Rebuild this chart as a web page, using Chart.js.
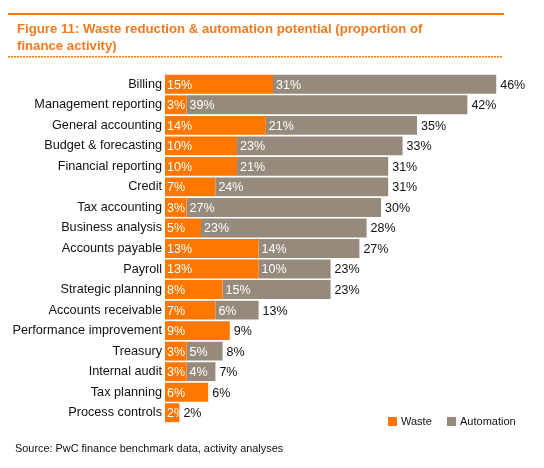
<!DOCTYPE html>
<html>
<head>
<meta charset="utf-8">
<script src="https://cdn.jsdelivr.net/npm/chart.js@4"></script>
<style>
  html, body { margin: 0; padding: 0; background: #fff; }
  #wrap { position: relative; width: 544px; height: 468px; }
  canvas { position: absolute; left: 0; top: 0; }
</style>
</head>
<body>
<div id="wrap"><canvas id="chart" width="544" height="468"></canvas></div>
<script>
const categories = [
  "Billing", "Management reporting", "General accounting", "Budget & forecasting",
  "Financial reporting", "Credit", "Tax accounting", "Business analysis",
  "Accounts payable", "Payroll", "Strategic planning", "Accounts receivable",
  "Performance improvement", "Treasury", "Internal audit", "Tax planning", "Process controls"
];
const waste = [15, 3, 14, 10, 10, 7, 3, 5, 13, 13, 8, 7, 9, 3, 3, 6, 2];
const automation = [31, 39, 21, 23, 21, 24, 27, 23, 14, 10, 15, 6, 0, 5, 4, 0, 0];
const totals = [46, 42, 35, 33, 31, 31, 30, 28, 27, 23, 23, 13, 9, 8, 7, 6, 2];

const orange = "#ff7600";
const grey = "#968a7d";
const font = "'Liberation Sans', Arial, sans-serif";

// frame: title, rules, legend, source
const framePlugin = {
  id: "frame",
  afterDraw(chart) {
    const ctx = chart.ctx;
    ctx.save();
    ctx.fillStyle = orange;
    ctx.fillRect(8, 13, 496, 2);
    ctx.fillStyle = "#f47a1f";
    ctx.font = "bold 13.2px " + font;
    ctx.textBaseline = "alphabetic";
    ctx.textAlign = "left";
    ctx.fillText("Figure 11: Waste reduction & automation potential (proportion of", 17, 33);
    ctx.fillText("finance activity)", 17, 50);
    ctx.fillStyle = orange;
    for (let x = 8; x < 502; x += 3) ctx.fillRect(x, 56, 2, 1.5);

    // legend
    ctx.font = "11px " + font;
    ctx.textBaseline = "middle";
    ctx.fillStyle = orange;
    ctx.fillRect(388, 417, 9, 9);
    ctx.fillStyle = "#111";
    ctx.fillText("Waste", 401, 422);
    ctx.fillStyle = grey;
    ctx.fillRect(447, 417, 9, 9);
    ctx.fillStyle = "#111";
    ctx.fillText("Automation", 460, 422);

    ctx.font = "10.9px " + font;
    ctx.fillText("Source: PwC finance benchmark data, activity analyses", 15, 449);
    ctx.restore();
  }
};

// value labels on bars
const labelPlugin = {
  id: "labels",
  afterDatasetsDraw(chart) {
    const ctx = chart.ctx;
    ctx.save();
    ctx.font = "12.5px " + font;
    ctx.textBaseline = "middle";
    ctx.textAlign = "left";
    const mw = chart.getDatasetMeta(0);
    const ma = chart.getDatasetMeta(1);
    for (let i = 0; i < categories.length; i++) {
      const bw = mw.data[i];
      ctx.fillStyle = "#fff";
      ctx.fillText(waste[i] + "%", bw.base + 2, bw.y + 1);
      const ba = ma.data[i];
      if (automation[i] > 0) {
        ctx.fillText(automation[i] + "%", ba.base + 3, ba.y + 1);
      }
      const end = automation[i] > 0 ? ba.x : bw.x;
      ctx.fillStyle = "#111";
      ctx.fillText(totals[i] + "%", end + 4, bw.y + 1);
    }
    ctx.restore();
  }
};

new Chart(document.getElementById("chart"), {
  type: "bar",
  data: {
    labels: categories,
    datasets: [
      { label: "Waste", data: waste, backgroundColor: orange, barPercentage: 0.92, categoryPercentage: 1 },
      { label: "Automation", data: automation, backgroundColor: grey, barPercentage: 0.92, categoryPercentage: 1 }
    ]
  },
  options: {
    indexAxis: "y",
    responsive: false,
    animation: false,
    devicePixelRatio: 1,
    layout: { padding: { left: 0, right: 19, top: 74, bottom: 45 } },
    plugins: { legend: { display: false }, tooltip: { enabled: false } },
    scales: {
      x: { stacked: true, min: 0, max: 50, display: false },
      y: {
        stacked: true,
        grid: { display: false, drawTicks: false, tickLength: 0 },
        border: { display: false },
        ticks: { color: "#111", font: { family: font, size: 12.7 }, padding: 3 },
        afterFit(scale) { scale.width = 165; }
      }
    }
  },
  plugins: [framePlugin, labelPlugin]
});
</script>
</body>
</html>
